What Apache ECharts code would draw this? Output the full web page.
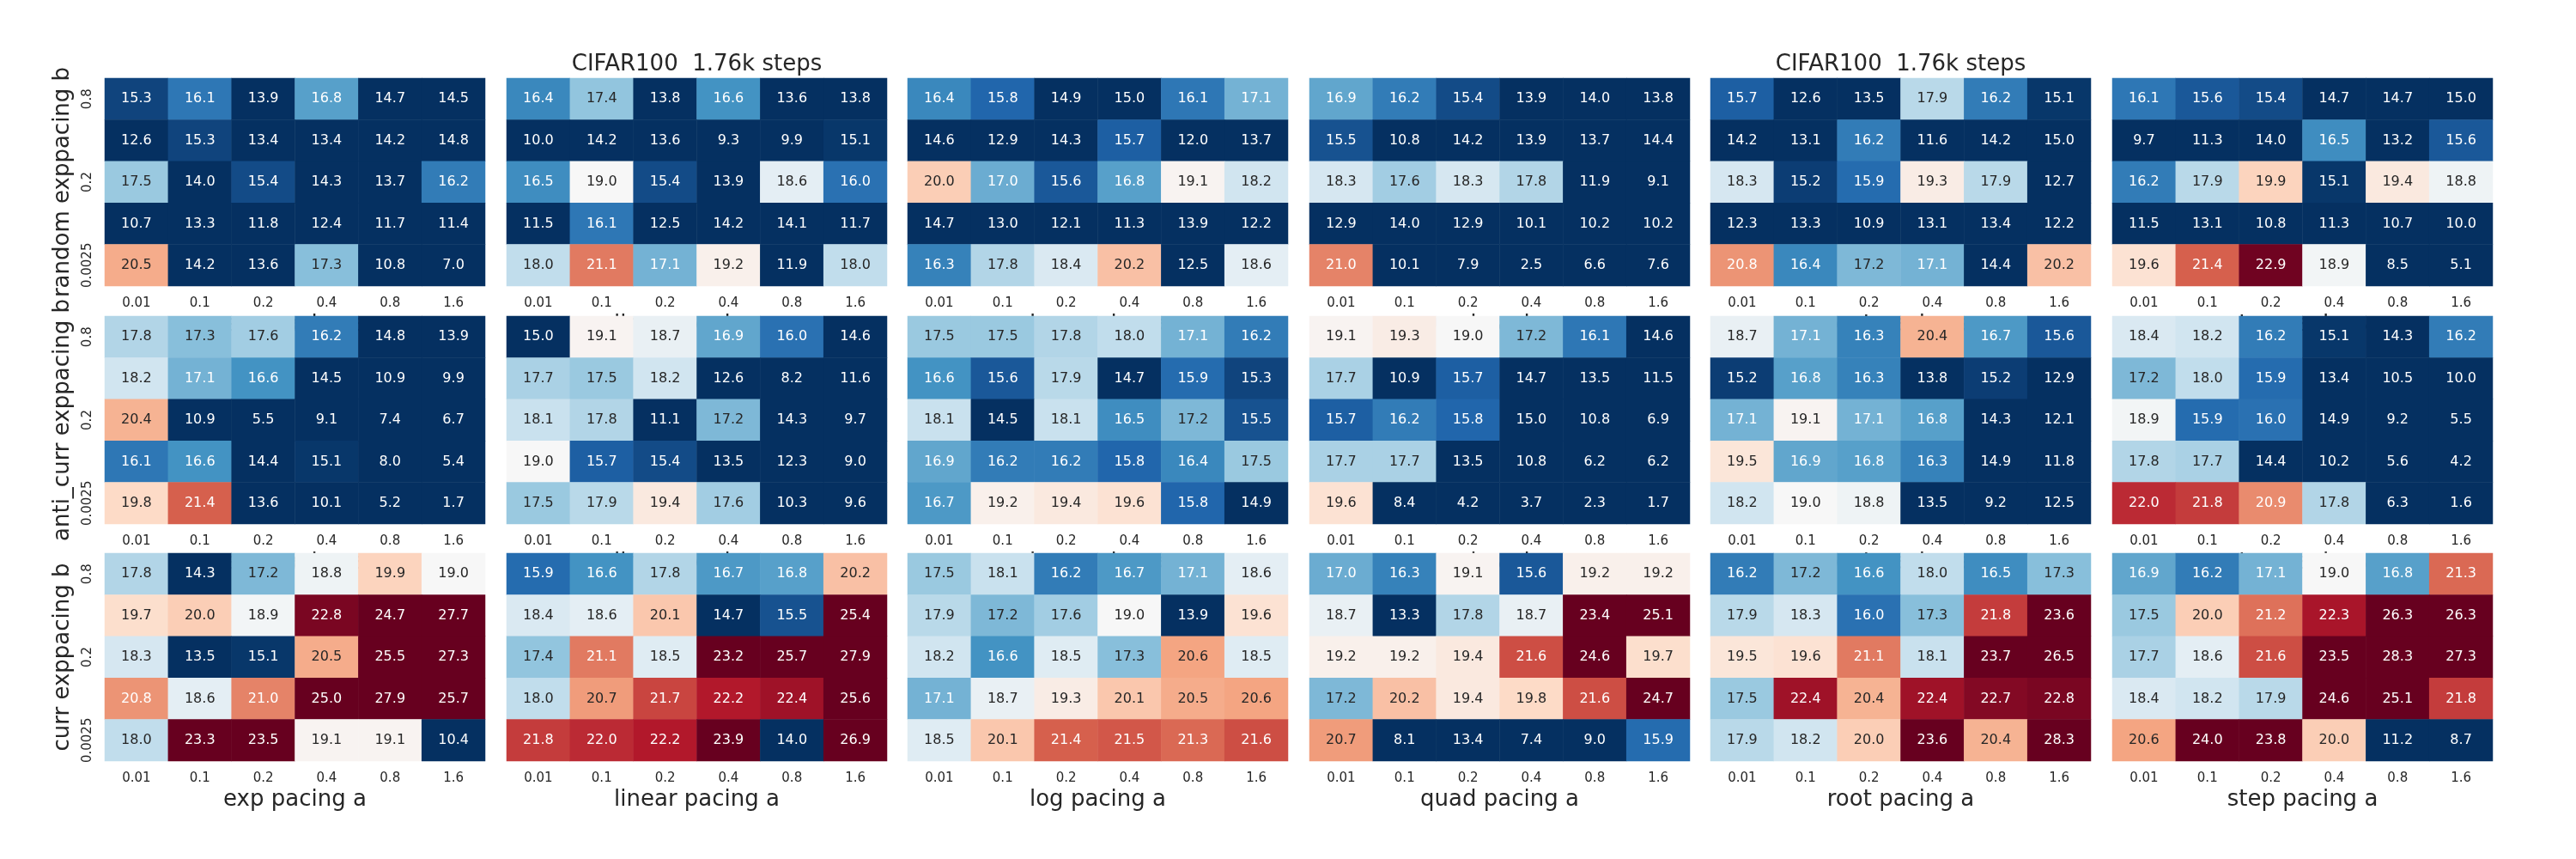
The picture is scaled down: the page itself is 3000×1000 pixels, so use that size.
<!DOCTYPE html>
<html>
<head>
<meta charset="utf-8">
<script src="https://cdn.jsdelivr.net/npm/echarts@6/dist/echarts.min.js"></script>
<style>
html,body{margin:0;padding:0;background:#fff;}
#chart{width:3000px;height:1000px;}
</style>
</head>
<body>
<div id="chart"></div>
<script>
// ---------- data ----------
const aCats = ['0.01', '0.1', '0.2', '0.4', '0.8', '1.6'];
const bCats = ['0.8', '0.4', '0.2', '0.1', '0.0025'];
const rowNames = ['random', 'anti_curr', 'curr'];
const pacingNames = ['exp', 'linear', 'log', 'quad', 'root', 'step'];
const titleText = 'CIFAR100  1.76k steps';

// rows: b = 0.8, 0.4, 0.2, 0.1, 0.0025 ; cols: a = 0.01 ... 1.6
const random_exp = [
  [15.3, 16.1, 13.9, 16.8, 14.7, 14.5],
  [12.6, 15.3, 13.4, 13.4, 14.2, 14.8],
  [17.5, 14.0, 15.4, 14.3, 13.7, 16.2],
  [10.7, 13.3, 11.8, 12.4, 11.7, 11.4],
  [20.5, 14.2, 13.6, 17.3, 10.8, 7.0]];
const random_linear = [
  [16.4, 17.4, 13.8, 16.6, 13.6, 13.8],
  [10.0, 14.2, 13.6, 9.3, 9.9, 15.1],
  [16.5, 19.0, 15.4, 13.9, 18.6, 16.0],
  [11.5, 16.1, 12.5, 14.2, 14.1, 11.7],
  [18.0, 21.1, 17.1, 19.2, 11.9, 18.0]];
const random_log = [
  [16.4, 15.8, 14.9, 15.0, 16.1, 17.1],
  [14.6, 12.9, 14.3, 15.7, 12.0, 13.7],
  [20.0, 17.0, 15.6, 16.8, 19.1, 18.2],
  [14.7, 13.0, 12.1, 11.3, 13.9, 12.2],
  [16.3, 17.8, 18.4, 20.2, 12.5, 18.6]];
const random_quad = [
  [16.9, 16.2, 15.4, 13.9, 14.0, 13.8],
  [15.5, 10.8, 14.2, 13.9, 13.7, 14.4],
  [18.3, 17.6, 18.3, 17.8, 11.9, 9.1],
  [12.9, 14.0, 12.9, 10.1, 10.2, 10.2],
  [21.0, 10.1, 7.9, 2.5, 6.6, 7.6]];
const random_root = [
  [15.7, 12.6, 13.5, 17.9, 16.2, 15.1],
  [14.2, 13.1, 16.2, 11.6, 14.2, 15.0],
  [18.3, 15.2, 15.9, 19.3, 17.9, 12.7],
  [12.3, 13.3, 10.9, 13.1, 13.4, 12.2],
  [20.8, 16.4, 17.2, 17.1, 14.4, 20.2]];
const random_step = [
  [16.1, 15.6, 15.4, 14.7, 14.7, 15.0],
  [9.7, 11.3, 14.0, 16.5, 13.2, 15.6],
  [16.2, 17.9, 19.9, 15.1, 19.4, 18.8],
  [11.5, 13.1, 10.8, 11.3, 10.7, 10.0],
  [19.6, 21.4, 22.9, 18.9, 8.5, 5.1]];

const anti_exp = [
  [17.8, 17.3, 17.6, 16.2, 14.8, 13.9],
  [18.2, 17.1, 16.6, 14.5, 10.9, 9.9],
  [20.4, 10.9, 5.5, 9.1, 7.4, 6.7],
  [16.1, 16.6, 14.4, 15.1, 8.0, 5.4],
  [19.8, 21.4, 13.6, 10.1, 5.2, 1.7]];
const anti_linear = [
  [15.0, 19.1, 18.7, 16.9, 16.0, 14.6],
  [17.7, 17.5, 18.2, 12.6, 8.2, 11.6],
  [18.1, 17.8, 11.1, 17.2, 14.3, 9.7],
  [19.0, 15.7, 15.4, 13.5, 12.3, 9.0],
  [17.5, 17.9, 19.4, 17.6, 10.3, 9.6]];
const anti_log = [
  [17.5, 17.5, 17.8, 18.0, 17.1, 16.2],
  [16.6, 15.6, 17.9, 14.7, 15.9, 15.3],
  [18.1, 14.5, 18.1, 16.5, 17.2, 15.5],
  [16.9, 16.2, 16.2, 15.8, 16.4, 17.5],
  [16.7, 19.2, 19.4, 19.6, 15.8, 14.9]];
const anti_quad = [
  [19.1, 19.3, 19.0, 17.2, 16.1, 14.6],
  [17.7, 10.9, 15.7, 14.7, 13.5, 11.5],
  [15.7, 16.2, 15.8, 15.0, 10.8, 6.9],
  [17.7, 17.7, 13.5, 10.8, 6.2, 6.2],
  [19.6, 8.4, 4.2, 3.7, 2.3, 1.7]];
const anti_root = [
  [18.7, 17.1, 16.3, 20.4, 16.7, 15.6],
  [15.2, 16.8, 16.3, 13.8, 15.2, 12.9],
  [17.1, 19.1, 17.1, 16.8, 14.3, 12.1],
  [19.5, 16.9, 16.8, 16.3, 14.9, 11.8],
  [18.2, 19.0, 18.8, 13.5, 9.2, 12.5]];
const anti_step = [
  [18.4, 18.2, 16.2, 15.1, 14.3, 16.2],
  [17.2, 18.0, 15.9, 13.4, 10.5, 10.0],
  [18.9, 15.9, 16.0, 14.9, 9.2, 5.5],
  [17.8, 17.7, 14.4, 10.2, 5.6, 4.2],
  [22.0, 21.8, 20.9, 17.8, 6.3, 1.6]];

const curr_exp = [
  [17.8, 14.3, 17.2, 18.8, 19.9, 19.0],
  [19.7, 20.0, 18.9, 22.8, 24.7, 27.7],
  [18.3, 13.5, 15.1, 20.5, 25.5, 27.3],
  [20.8, 18.6, 21.0, 25.0, 27.9, 25.7],
  [18.0, 23.3, 23.5, 19.1, 19.1, 10.4]];
const curr_linear = [
  [15.9, 16.6, 17.8, 16.7, 16.8, 20.2],
  [18.4, 18.6, 20.1, 14.7, 15.5, 25.4],
  [17.4, 21.1, 18.5, 23.2, 25.7, 27.9],
  [18.0, 20.7, 21.7, 22.2, 22.4, 25.6],
  [21.8, 22.0, 22.2, 23.9, 14.0, 26.9]];
const curr_log = [
  [17.5, 18.1, 16.2, 16.7, 17.1, 18.6],
  [17.9, 17.2, 17.6, 19.0, 13.9, 19.6],
  [18.2, 16.6, 18.5, 17.3, 20.6, 18.5],
  [17.1, 18.7, 19.3, 20.1, 20.5, 20.6],
  [18.5, 20.1, 21.4, 21.5, 21.3, 21.6]];
const curr_quad = [
  [17.0, 16.3, 19.1, 15.6, 19.2, 19.2],
  [18.7, 13.3, 17.8, 18.7, 23.4, 25.1],
  [19.2, 19.2, 19.4, 21.6, 24.6, 19.7],
  [17.2, 20.2, 19.4, 19.8, 21.6, 24.7],
  [20.7, 8.1, 13.4, 7.4, 9.0, 15.9]];
const curr_root = [
  [16.2, 17.2, 16.6, 18.0, 16.5, 17.3],
  [17.9, 18.3, 16.0, 17.3, 21.8, 23.6],
  [19.5, 19.6, 21.1, 18.1, 23.7, 26.5],
  [17.5, 22.4, 20.4, 22.4, 22.7, 22.8],
  [17.9, 18.2, 20.0, 23.6, 20.4, 28.3]];
const curr_step = [
  [16.9, 16.2, 17.1, 19.0, 16.8, 21.3],
  [17.5, 20.0, 21.2, 22.3, 26.3, 26.3],
  [17.7, 18.6, 21.6, 23.5, 28.3, 27.3],
  [18.4, 18.2, 17.9, 24.6, 25.1, 21.8],
  [20.6, 24.0, 23.8, 20.0, 11.2, 8.7]];

const panels = [
  [random_exp, random_linear, random_log, random_quad, random_root, random_step],
  [anti_exp, anti_linear, anti_log, anti_quad, anti_root, anti_step],
  [curr_exp, curr_linear, curr_log, curr_quad, curr_root, curr_step]
];

// ---------- style / layout ----------
const FONT = 'DejaVu Sans';
const TXT = '#262626';
const vmin = 15, vmax = 23;
const RdBu_r = ['#053061', '#2166ac', '#4393c3', '#92c5de', '#d1e5f0', '#f7f7f7',
                '#fddbc7', '#f4a582', '#d6604d', '#b2182b', '#67001f'];
const colLeft = [122, 590, 1057, 1525, 1992, 2460];
const rowTop = [91, 368, 644];
const panelW = 443, panelH = 242;

function hexToRgb(h) {
  return [parseInt(h.slice(1, 3), 16), parseInt(h.slice(3, 5), 16), parseInt(h.slice(5, 7), 16)];
}
function cmap(v) {
  let t = (v - vmin) / (vmax - vmin);
  t = Math.max(0, Math.min(1, t));
  const pos = t * (RdBu_r.length - 1);
  const i = Math.min(Math.floor(pos), RdBu_r.length - 2);
  const f = pos - i;
  const a = hexToRgb(RdBu_r[i]), b = hexToRgb(RdBu_r[i + 1]);
  return a.map((x, k) => x + (b[k] - x) * f);
}
function textColor(v) {
  const rgb = cmap(v).map(c => {
    c = c / 255;
    return c <= 0.03928 ? c / 12.92 : Math.pow((c + 0.055) / 1.055, 2.4);
  });
  const lum = 0.2126 * rgb[0] + 0.7152 * rgb[1] + 0.0722 * rgb[2];
  return lum > 0.408 ? TXT : '#ffffff';
}

const grids = [], xAxes = [], yAxes = [], series = [];
for (let r = 0; r < 3; r++) {
  for (let c = 0; c < 6; c++) {
    const g = r * 6 + c;
    grids.push({ left: colLeft[c], top: rowTop[r], width: panelW, height: panelH, containLabel: false });
    xAxes.push({
      type: 'category', gridIndex: g, data: aCats,
      axisLine: { show: false }, axisTick: { show: false }, splitLine: { show: false },
      axisLabel: { fontFamily: FONT, fontSize: 15, color: TXT, margin: 13 },
      name: pacingNames[c] + ' pacing a', nameLocation: 'middle', nameGap: 32,
      nameTextStyle: { fontFamily: FONT, fontSize: 26, color: TXT }
    });
    yAxes.push({
      type: 'category', gridIndex: g, data: bCats, inverse: true,
      axisLine: { show: false }, axisTick: { show: false }, splitLine: { show: false },
      axisLabel: { show: c === 0, rotate: 90, fontFamily: FONT, fontSize: 15, color: TXT, margin: 12 },
      name: c === 0 ? rowNames[r] + ' exppacing b' : '', nameLocation: 'middle', nameGap: 36,
      nameTextStyle: { fontFamily: FONT, fontSize: 26, color: TXT }
    });
    const M = panels[r][c];
    const data = [];
    for (let i = 0; i < bCats.length; i++) {
      for (let j = 0; j < aCats.length; j++) {
        const v = M[i][j];
        data.push({ value: [j, i, v], label: { color: textColor(v) } });
      }
    }
    series.push({
      type: 'heatmap', xAxisIndex: g, yAxisIndex: g, data: data,
      label: {
        show: true, fontFamily: FONT, fontSize: 16,
        formatter: p => p.value[2].toFixed(1)
      },
      itemStyle: { borderWidth: 0 },
      emphasis: { disabled: true }
    });
  }
}

const chart = echarts.init(document.getElementById('chart'), null, { renderer: 'canvas' });
chart.setOption({
  backgroundColor: '#ffffff',
  animation: false,
  grid: grids,
  xAxis: xAxes,
  yAxis: yAxes,
  visualMap: {
    show: false, type: 'continuous', min: vmin, max: vmax,
    seriesIndex: series.map((s, i) => i),
    inRange: { color: RdBu_r }
  },
  graphic: [1, 4].map(c => ({
    type: 'text', x: colLeft[c] + panelW / 2, y: 75,
    style: { text: titleText, fontFamily: FONT, fontSize: 26, fill: TXT,
             textAlign: 'center', textVerticalAlign: 'middle' }
  })),
  series: series
});
</script>
</body>
</html>
